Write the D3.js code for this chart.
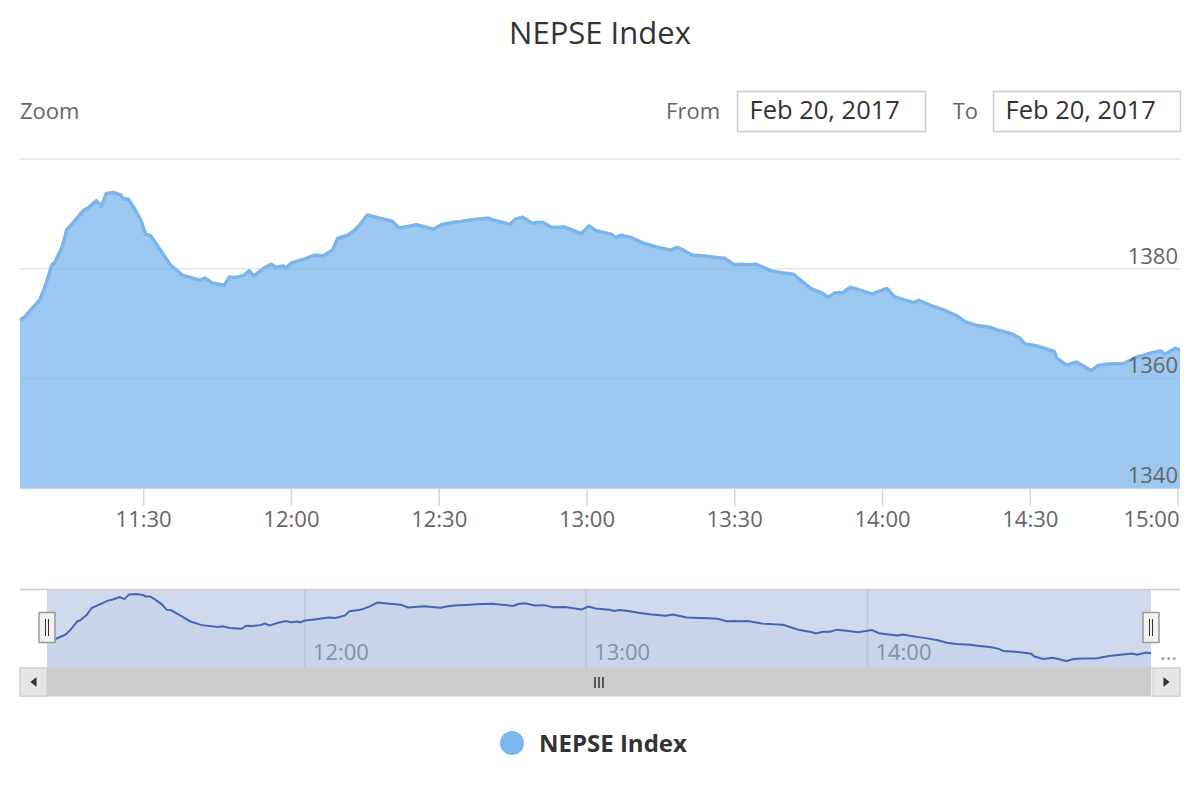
<!DOCTYPE html>
<html><head><meta charset="utf-8">
<script src="https://cdn.jsdelivr.net/npm/d3@7"></script>
<style>body{margin:0;background:#fff}svg{display:block;font-family:"Open Sans",sans-serif}</style>
</head><body><svg id="c" width="1200" height="800"></svg>
<script>
const times=["11:05:00","11:06:00","11:07:30","11:09:00","11:10:00","11:11:30","11:12:00","11:13:30","11:14:30","11:16:00","11:18:00","11:19:00","11:20:30","11:21:30","11:22:30","11:24:00","11:25:30","11:26:00","11:27:00","11:28:00","11:29:30","11:30:30","11:31:30","11:33:30","11:35:30","11:38:00","11:41:30","11:42:30","11:44:00","11:46:30","11:47:30","11:49:00","11:50:30","11:51:30","11:52:30","11:54:30","11:56:00","11:57:00","11:58:30","11:59:00","12:00:00","12:02:30","12:05:00","12:06:30","12:08:30","12:09:30","12:11:30","12:12:30","12:14:00","12:15:30","12:18:00","12:20:30","12:22:00","12:25:30","12:29:00","12:30:30","12:32:30","12:34:30","12:36:30","12:40:00","12:41:00","12:44:30","12:45:30","12:47:00","12:49:00","12:51:00","12:53:00","12:55:30","12:59:00","13:00:30","13:02:00","13:05:00","13:06:00","13:07:00","13:09:00","13:11:30","13:14:00","13:17:00","13:18:30","13:21:30","13:24:00","13:26:00","13:28:00","13:30:00","13:31:30","13:33:00","13:34:30","13:37:30","13:40:00","13:42:00","13:43:30","13:45:30","13:48:00","13:49:00","13:50:30","13:52:00","13:53:30","13:55:30","13:58:00","14:01:00","14:02:30","14:04:30","14:06:30","14:07:30","14:10:30","14:12:30","14:15:00","14:17:00","14:19:00","14:22:00","14:23:30","14:26:30","14:28:00","14:29:00","14:31:30","14:35:00","14:35:30","14:37:30","14:39:30","14:42:30","14:44:00","14:46:00","14:49:00","14:51:30","14:54:30","14:56:30","14:57:30","14:59:30","15:00:30"];
const values=[1370.6,1371.2,1372.8,1374.3,1376.5,1380.7,1381.0,1383.8,1387.1,1388.6,1390.7,1391.2,1392.4,1391.4,1393.7,1393.9,1393.4,1392.7,1392.7,1391.3,1388.9,1386.3,1386.0,1383.4,1380.7,1378.8,1377.9,1378.3,1377.4,1377.0,1378.5,1378.4,1378.8,1379.6,1378.7,1380.1,1380.8,1380.2,1380.5,1380.1,1381.0,1381.7,1382.5,1382.3,1383.4,1385.5,1386.1,1386.7,1388.0,1389.8,1389.2,1388.7,1387.4,1388.0,1387.2,1388.0,1388.4,1388.6,1388.9,1389.2,1388.9,1388.1,1389.0,1389.4,1388.3,1388.5,1387.5,1387.6,1386.4,1387.8,1386.9,1386.3,1385.7,1386.1,1385.7,1384.7,1384.0,1383.4,1383.9,1382.5,1382.3,1382.1,1381.9,1380.7,1380.8,1380.7,1380.8,1379.6,1379.2,1379.0,1377.9,1376.4,1375.5,1374.8,1375.6,1375.6,1376.6,1376.1,1375.4,1376.4,1374.9,1374.3,1373.8,1374.2,1373.1,1372.5,1371.5,1370.3,1369.7,1369.3,1368.8,1368.1,1367.3,1366.3,1365.9,1364.9,1363.7,1362.4,1363.0,1361.4,1362.4,1362.6,1362.7,1363.8,1364.6,1365.0,1364.4,1365.5,1365.2];
const yGrid=[1340,1360,1380,1400];
const yLabels=[1340,1360,1380];
const xTickLabels=["11:30","12:00","12:30","13:00","13:30","14:00","14:30","15:00"];
const navTickLabels=["12:00","13:00","14:00"];
const seriesName="NEPSE Index";
const titleText="NEPSE Index";
const fromDate="Feb 20, 2017", toDate="Feb 20, 2017";

const parse=d3.timeParse("%H:%M:%S"), parseHM=d3.timeParse("%H:%M");
const data=times.map((t,i)=>({t:parse(t),v:values[i]}));
const svg=d3.select("#c");

// title
svg.append("text").attr("x",600).attr("y",44).attr("text-anchor","middle")
  .attr("font-size",31).attr("fill","#333").text(titleText);

// range selector
const rs=svg.append("g").attr("font-size",22);
rs.append("text").attr("x",20).attr("y",119).attr("fill","#666").text("Zoom");
rs.append("text").attr("x",720).attr("y",119).attr("text-anchor","end").attr("fill","#666").text("From");
rs.append("text").attr("x",978).attr("y",119).attr("text-anchor","end").attr("fill","#666").text("To");
[[737.5,188,fromDate],[993.5,187,toDate]].forEach(([bx,bw,txt])=>{
  rs.append("rect").attr("x",bx).attr("y",91.5).attr("width",bw).attr("height",40)
    .attr("fill","#fff").attr("stroke","#ccc").attr("stroke-width",1.5);
  rs.append("text").attr("x",bx+12).attr("y",119).attr("font-size",25.5).attr("fill","#333").text(txt);
});

// main plot
const x=d3.scaleTime().domain(d3.extent(data,d=>d.t)).range([20,1180]);
const y=d3.scaleLinear().domain([1340,1400]).range([488,159]);

svg.append("g").selectAll("line").data(yGrid).join("line")
  .attr("x1",20).attr("x2",1180).attr("y1",d=>y(d)).attr("y2",d=>y(d))
  .attr("stroke","#e6e6e6").attr("stroke-width",1.5);

svg.append("path").datum(data)
  .attr("d",d3.area().x(d=>x(d.t)).y0(y(1340)).y1(d=>y(d.v)))
  .attr("fill","#7cb5ec").attr("fill-opacity",0.75);
svg.append("path").datum(data)
  .attr("d",d3.line().x(d=>x(d.t)).y(d=>y(d.v)))
  .attr("fill","none").attr("stroke","#7cb5ec").attr("stroke-width",3.5).attr("stroke-linejoin","round");

svg.append("g").selectAll("text").data(yLabels).join("text")
  .attr("x",1178).attr("y",d=>y(d)-5).attr("text-anchor","end")
  .attr("font-size",22).attr("fill","#666").text(d=>d);

const xa=svg.append("g").attr("transform",`translate(0,${y(1340)})`)
  .call(d3.axisBottom(x).tickValues(xTickLabels.map(parseHM)).tickFormat(d3.timeFormat("%H:%M")).tickSize(18).tickSizeOuter(0));
xa.select(".domain").attr("stroke","#ccd6eb").attr("stroke-width",1.5);
xa.selectAll(".tick line").attr("stroke","#ccd6eb").attr("stroke-width",1.5);
xa.selectAll(".tick text").attr("y",39).attr("dy",0).attr("font-size",22).attr("fill","#666").attr("font-family","Open Sans, sans-serif");
// keep the last label inside the chart edge
xa.selectAll(".tick text").filter((d,i,n)=>i===n.length-1)
  .attr("text-anchor","end").attr("x",d=>1179-x(d));

// navigator
const nTop=589, nBot=668;
const nx=d3.scaleTime().domain(d3.extent(data,d=>d.t)).range([47,1151]);
const ny=d3.scaleLinear().domain(d3.extent(values)).range([661,594]);
const nav=svg.append("g");
nav.selectAll("line.g").data(navTickLabels).join("line")
  .attr("x1",d=>nx(parseHM(d))).attr("x2",d=>nx(parseHM(d))).attr("y1",nTop).attr("y2",nBot)
  .attr("stroke","#e6e6e6").attr("stroke-width",1.5);
nav.selectAll("text.l").data(navTickLabels).join("text")
  .attr("x",d=>nx(parseHM(d))+8).attr("y",660).attr("font-size",22).attr("fill","#999").text(d=>d);
nav.append("path").datum(data)
  .attr("d",d3.area().x(d=>nx(d.t)).y0(nBot).y1(d=>ny(d.v)))
  .attr("fill","#335cad").attr("fill-opacity",0.05);
nav.append("path").datum(data)
  .attr("d",d3.line().x(d=>nx(d.t)).y(d=>ny(d.v)))
  .attr("fill","none").attr("stroke","#335cad").attr("stroke-width",2);
const h0=nx.range()[0], h1=nx.range()[1];
nav.append("rect").attr("x",h0).attr("y",nTop).attr("width",h1-h0).attr("height",nBot-nTop)
  .attr("fill","rgba(102,133,194,0.3)");
nav.append("line").attr("x1",20).attr("x2",1180).attr("y1",nTop+0.5).attr("y2",nTop+0.5)
  .attr("stroke","#ccc").attr("stroke-width",1.5);
nav.append("text").attr("x",1160).attr("y",660).attr("font-size",22).attr("fill","#999").text("…");

// scrollbar
const sTop=668, sBot=696;
svg.append("rect").attr("x",20).attr("y",sTop).attr("width",1160).attr("height",sBot-sTop)
  .attr("fill","#f2f2f2").attr("stroke","#ccc");
svg.append("rect").attr("x",h0).attr("y",sTop).attr("width",h1-h0).attr("height",sBot-sTop)
  .attr("fill","#ccc");
[[20,-1],[1153,1]].forEach(([bx,dir])=>{
  svg.append("rect").attr("x",bx).attr("y",sTop).attr("width",27).attr("height",sBot-sTop)
    .attr("fill","#e6e6e6").attr("stroke","#ccc");
  const cx=bx+13.5, cy=(sTop+sBot)/2;
  svg.append("path").attr("d",`M${cx-3*dir},${cy-5}L${cx+3*dir},${cy}L${cx-3*dir},${cy+5}Z`).attr("fill","#333");
});
const gc=(h0+h1)/2;
[-4,0,4].forEach(o=>svg.append("line").attr("x1",gc+o).attr("x2",gc+o).attr("y1",677).attr("y2",688)
  .attr("stroke","#333").attr("stroke-width",1.5));

// handles
[h0,h1].forEach(hx=>{
  svg.append("rect").attr("x",hx-8).attr("y",612.5).attr("width",16).attr("height",30)
    .attr("fill","#f2f2f2").attr("stroke","#999").attr("stroke-width",1.5);
  [-1.5,1.5].forEach(o=>svg.append("line").attr("x1",hx+o).attr("x2",hx+o).attr("y1",619).attr("y2",636)
    .attr("stroke","#333").attr("stroke-width",1));
});

// legend
svg.append("circle").attr("cx",512).attr("cy",743).attr("r",12).attr("fill","#7cb5ec");
svg.append("text").attr("x",539).attr("y",752).attr("font-size",24).attr("font-weight","bold")
  .attr("fill","#333").text(seriesName);
</script></body></html>
